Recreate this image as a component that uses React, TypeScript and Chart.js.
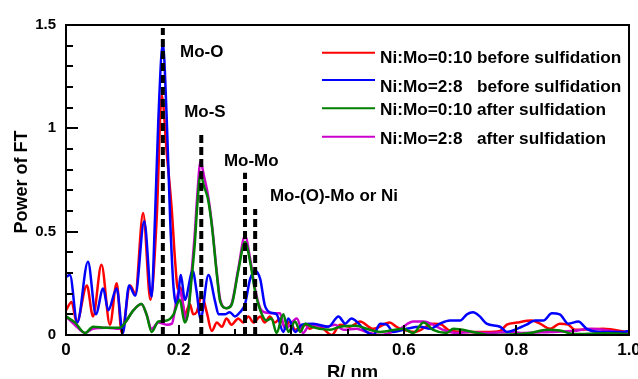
import React, { useEffect, useRef } from 'react';
import { Chart, registerables } from 'chart.js';

Chart.register(...registerables);

// ---- data (R in nm, Power of FT) ----
const redR = [0, 0.010, 0.019, 0.037, 0.048, 0.063, 0.078, 0.090, 0.099, 0.114, 0.123, 0.137, 0.150, 0.161, 0.170, 0.179, 0.188, 0.194, 0.199, 0.203, 0.211, 0.220, 0.226, 0.232, 0.241, 0.250, 0.259, 0.268, 0.277, 0.285, 0.294, 0.306, 0.315, 0.324, 0.333, 0.345, 0.353, 0.362, 0.371, 0.380, 0.389, 0.398, 0.407, 0.425, 0.433, 0.445, 0.457, 0.472, 0.487, 0.504, 0.522, 0.546, 0.575, 0.587, 0.599, 0.620, 0.652, 0.667, 0.679, 0.712, 0.747, 0.771, 0.783, 0.801, 0.827, 0.842, 0.860, 0.877, 0.892, 0.904, 0.954, 1.0];
const redV = [0.12, 0.16, 0.06, 0.24, 0.09, 0.34, 0.05, 0.25, 0.01, 0.24, 0.20, 0.59, 0.17, 0.56, 1.16, 0.88, 0.60, 0.35, 0.22, 0.23, 0.10, 0.15, 0.10, 0.11, 0.19, 0.11, 0.02, 0.06, 0.04, 0.08, 0.05, 0.08, 0.06, 0.09, 0.06, 0.09, 0.06, 0.09, 0.06, 0.08, 0.04, 0.065, 0.025, 0.05, 0.03, 0.05, 0.03, 0.0, 0.05, 0.04, 0.065, 0.03, 0.06, 0.04, 0.025, 0.015, 0.055, 0.05, 0.025, 0.015, 0.015, 0.02, 0.05, 0.06, 0.07, 0.055, 0.03, 0.055, 0.05, 0.025, 0.03, 0.013];

const blueR = [0, 0.007, 0.020, 0.039, 0.053, 0.066, 0.075, 0.090, 0.101, 0.112, 0.123, 0.139, 0.152, 0.158, 0.164, 0.172, 0.179, 0.185, 0.191, 0.197, 0.204, 0.211, 0.225, 0.232, 0.239, 0.253, 0.265, 0.271, 0.282, 0.291, 0.300, 0.309, 0.318, 0.327, 0.336, 0.345, 0.353, 0.362, 0.374, 0.386, 0.395, 0.407, 0.419, 0.439, 0.466, 0.484, 0.496, 0.507, 0.534, 0.546, 0.558, 0.570, 0.581, 0.605, 0.629, 0.647, 0.664, 0.682, 0.700, 0.712, 0.723, 0.735, 0.747, 0.771, 0.783, 0.801, 0.818, 0.833, 0.848, 0.863, 0.877, 0.892, 0.910, 0.925, 0.948, 0.990, 1.0];
const blueV = [0.28, 0.29, 0.06, 0.355, 0.10, 0.225, 0.12, 0.225, 0.01, 0.24, 0.19, 0.55, 0.185, 0.56, 1.04, 1.41, 1.04, 0.56, 0.23, 0.15, 0.29, 0.17, 0.31, 0.21, 0.08, 0.29, 0.16, 0.10, 0.10, 0.11, 0.09, 0.11, 0.15, 0.27, 0.31, 0.27, 0.145, 0.11, 0.10, 0.015, 0.08, 0.015, 0.05, 0.055, 0.04, 0.09, 0.055, 0.08, 0.015, 0.0, 0.055, 0.05, 0.015, 0.03, 0.04, 0.03, 0.055, 0.07, 0.07, 0.10, 0.11, 0.09, 0.055, 0.04, 0.015, 0.03, 0.05, 0.07, 0.07, 0.105, 0.10, 0.055, 0.065, 0.03, 0.015, 0.015, 0.02];

const greenR = [0, 0.016, 0.034, 0.048, 0.072, 0.096, 0.105, 0.120, 0.134, 0.143, 0.152, 0.164, 0.179, 0.191, 0.202, 0.211, 0.217, 0.223, 0.229, 0.233, 0.239, 0.245, 0.252, 0.259, 0.268, 0.274, 0.285, 0.294, 0.306, 0.318, 0.327, 0.336, 0.345, 0.356, 0.365, 0.374, 0.386, 0.395, 0.407, 0.416, 0.425, 0.436, 0.469, 0.487, 0.516, 0.534, 0.558, 0.599, 0.617, 0.635, 0.652, 0.676, 0.688, 0.723, 0.753, 0.824, 0.854, 0.877, 0.901, 0.960, 1.0];
const greenV = [0.09, 0.06, 0.01, 0.04, 0.035, 0.035, 0.06, 0.12, 0.15, 0.10, 0.015, 0.065, 0.07, 0.10, 0.17, 0.06, 0.11, 0.27, 0.45, 0.62, 0.78, 0.72, 0.66, 0.53, 0.29, 0.16, 0.13, 0.145, 0.31, 0.45, 0.355, 0.21, 0.12, 0.07, 0.08, 0.01, 0.10, 0.015, 0.065, 0.015, 0.055, 0.04, 0.025, 0.04, 0.045, 0.03, 0.015, 0.03, 0.01, 0.06, 0.025, 0.01, 0.03, 0.015, 0.0, 0.01, 0.025, 0.022, 0.005, 0.008, 0.005];

const magentaR = [0, 0.019, 0.034, 0.048, 0.072, 0.096, 0.105, 0.120, 0.134, 0.143, 0.152, 0.164, 0.179, 0.188, 0.197, 0.202, 0.208, 0.213, 0.217, 0.223, 0.229, 0.233, 0.239, 0.245, 0.252, 0.259, 0.268, 0.274, 0.285, 0.294, 0.306, 0.318, 0.327, 0.336, 0.345, 0.353, 0.371, 0.380, 0.389, 0.410, 0.421, 0.433, 0.463, 0.478, 0.493, 0.516, 0.534, 0.558, 0.593, 0.617, 0.635, 0.652, 0.670, 0.694, 0.718, 0.747, 0.789, 0.812, 0.860, 0.901, 0.931, 0.954, 0.978, 1.0];
const magentaV = [0.09, 0.04, 0.01, 0.03, 0.035, 0.03, 0.06, 0.12, 0.15, 0.10, 0.03, 0.06, 0.05, 0.055, 0.18, 0.22, 0.145, 0.07, 0.12, 0.30, 0.50, 0.67, 0.84, 0.77, 0.68, 0.54, 0.30, 0.17, 0.13, 0.15, 0.32, 0.48, 0.37, 0.22, 0.13, 0.11, 0.105, 0.105, 0.03, 0.08, 0.01, 0.05, 0.04, 0.05, 0.025, 0.03, 0.015, 0.0, 0.03, 0.065, 0.065, 0.05, 0.025, 0.01, 0.015, 0.01, 0.015, 0.01, 0.015, 0.02, 0.03, 0.025, 0.015, 0.012];

const seriesLabels = [
  'Ni:Mo=0:10 before sulfidation',
  'Ni:Mo=2:8   before sulfidation',
  'Ni:Mo=0:10 after sulfidation',
  'Ni:Mo=2:8   after sulfidation',
];
const seriesColors = ['#ff0000', '#0000ff', '#008000', '#cc00cc'];

// reference peaks (dashed markers)
const peakNames = ['Mo-O', 'Mo-S', 'Mo-Mo', 'Mo-(O)-Mo or Ni'];
const peakR = [0.172, 0.2403, 0.318, 0.336];
const peakTop = [1.485, 0.98, 0.785, 0.61];
// label anchors (data units: left edge R, baseline value)
const peakLabelR = [0.2025, 0.210, 0.2806, 0.3623];
const peakLabelV = [1.347, 1.053, 0.819, 0.650];

const xTickStep = 0.2;
const yTickStep = 0.5;

const FONT = '"Liberation Sans", Arial, Helvetica, sans-serif';

function drawText(ctx: CanvasRenderingContext2D, s: string, x: number, y: number, size: number, sx = 1.06, align: CanvasTextAlign = 'left') {
  ctx.save();
  ctx.font = `bold ${size}px ${FONT}`;
  ctx.fillStyle = '#000';
  ctx.textBaseline = 'alphabetic';
  ctx.textAlign = align;
  ctx.translate(x, y);
  ctx.scale(sx, 1);
  ctx.fillText(s, 0, 0);
  ctx.restore();
}

const decorPlugin = {
  id: 'decor',
  afterDraw(chart: any) {
    const { ctx, chartArea: a, scales } = chart;
    const xs = scales.x;
    const ys = scales.y;
    ctx.save();
    // frame
    ctx.strokeStyle = '#000';
    ctx.lineWidth = 2;
    ctx.strokeRect(a.left, a.top, a.right - a.left, a.bottom - a.top);
    // inner ticks y
    ctx.lineWidth = 2;
    for (let i = 0; i <= 15; i++) {
      const v = i / 10;
      const py = Math.round(ys.getPixelForValue(v)) + 0.0;
      const len = i % 5 === 0 ? 12 : 7;
      ctx.beginPath();
      ctx.moveTo(a.left, py);
      ctx.lineTo(a.left + len, py);
      ctx.stroke();
    }
    // inner ticks x
    for (let i = 0; i <= 10; i++) {
      const v = i / 10;
      const px = Math.round(xs.getPixelForValue(v));
      const len = i % 2 === 0 ? 10 : 6;
      ctx.beginPath();
      ctx.moveTo(px, a.bottom);
      ctx.lineTo(px, a.bottom - len);
      ctx.stroke();
    }
    // peak labels
    for (let i = 0; i < peakNames.length; i++) {
      drawText(ctx, peakNames[i], xs.getPixelForValue(peakLabelR[i]), ys.getPixelForValue(peakLabelV[i]), 16, 1.06);
    }
    // legend
    const lineY = [52.7, 80, 108.3, 136.7];
    const textY = [63.3, 91.7, 115, 143.5];
    for (let i = 0; i < seriesLabels.length; i++) {
      ctx.strokeStyle = seriesColors[i];
      ctx.lineWidth = 2;
      ctx.beginPath();
      ctx.moveTo(322, lineY[i]);
      ctx.lineTo(375, lineY[i]);
      ctx.stroke();
      drawText(ctx, seriesLabels[i], 380, textY[i], 16, 1.075);
    }
    // axis titles
    drawText(ctx, 'R/ nm', 352.5, 377, 17, 1.08, 'center');
    ctx.save();
    ctx.translate(26.5, 182);
    ctx.rotate(-Math.PI / 2);
    ctx.font = `bold 18px ${FONT}`;
    ctx.fillStyle = '#000';
    ctx.textAlign = 'center';
    ctx.textBaseline = 'alphabetic';
    ctx.fillText('Power of FT', 0, 0);
    ctx.restore();
    ctx.restore();
  },
};

function makeSeries(i: number, rs: number[], vs: number[], order: number) {
  return {
    label: seriesLabels[i],
    data: rs.map((r, k) => ({ x: r, y: vs[k] })),
    borderColor: seriesColors[i],
    backgroundColor: seriesColors[i],
    borderWidth: 2.5,
    pointRadius: 0,
    cubicInterpolationMode: 'monotone' as const,
    fill: false,
    order,
  };
}

export default function App() {
  const ref = useRef<HTMLCanvasElement | null>(null);
  useEffect(() => {
    if (!ref.current) return;
    const dashed = peakR.map((r, i) => ({
      label: peakNames[i],
      data: [{ x: r, y: 0 }, { x: r, y: peakTop[i] }],
      borderColor: '#000',
      borderWidth: 4,
      borderDash: [8, 4],
      pointRadius: 0,
      tension: 0,
      fill: false,
      order: 0,
    }));
    const chart = new Chart(ref.current, {
      type: 'line',
      data: {
        datasets: [
          makeSeries(0, redR, redV, 4),
          makeSeries(1, blueR, blueV, 2),
          makeSeries(2, greenR, greenV, 1),
          makeSeries(3, magentaR, magentaV, 3),
          ...dashed,
        ] as any,
      },
      options: {
        responsive: false,
        animation: false,
        events: [],
        layout: { padding: { top: 25, right: 9, left: 0, bottom: 0 } },
        plugins: { legend: { display: false }, tooltip: { enabled: false } },
        scales: {
          x: {
            type: 'linear',
            min: 0,
            max: 1,
            border: { display: false },
            grid: { display: false, drawTicks: false },
            ticks: {
              stepSize: xTickStep,
              padding: 5,
              color: '#000',
              maxRotation: 0,
              autoSkip: false,
              font: { family: FONT, size: 17, weight: 'bold' },
              callback: (v: any) => (Number(v) === 0 ? '0' : Number(v).toFixed(1)),
            },
            afterFit: (s: any) => {
              s.height = 44;
              s.paddingLeft = 0;
              s.paddingRight = 0;
            },
          },
          y: {
            type: 'linear',
            min: 0,
            max: 1.5,
            border: { display: false },
            grid: { display: false, drawTicks: false },
            ticks: {
              stepSize: yTickStep,
              padding: 10,
              color: '#000',
              font: { family: FONT, size: 15, weight: 'bold' },
              callback: (v: any) => String(Number(Number(v).toFixed(2))),
            },
            afterFit: (s: any) => {
              s.width = 66;
              s.paddingTop = 0;
              s.paddingBottom = 0;
            },
          },
        },
      } as any,
      plugins: [decorPlugin],
    });
    return () => chart.destroy();
  }, []);
  return (
    <div style={{ position: 'absolute', left: 0, top: 0, width: 638, height: 379, background: '#fff' }}>
      <canvas ref={ref} width={638} height={379} style={{ display: 'block', width: 638, height: 379 }} />
    </div>
  );
}
